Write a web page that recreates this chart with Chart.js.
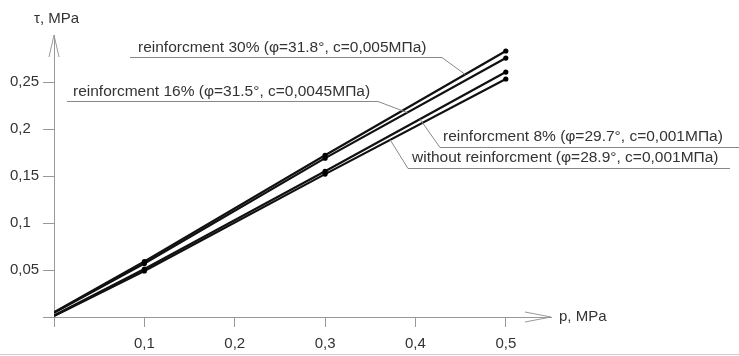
<!DOCTYPE html>
<html>
<head>
<meta charset="utf-8">
<script src="https://cdn.jsdelivr.net/npm/chart.js@4.4.1/dist/chart.umd.min.js"></script>
<style>
  html, body { margin: 0; padding: 0; background: #fff; }
  #wrap { width: 739px; height: 356px; position: relative; }
</style>
</head>
<body>
<div id="wrap"><canvas id="chart"></canvas></div>
<script>
// normal load p, MPa
const pressures = [0, 0.1, 0.3, 0.5];

// shear strength tau, MPa
const tauReinf30 = [0.005, 0.059, 0.172, 0.283];
const tauReinf16 = [0.0045, 0.057, 0.169, 0.2755];
const tauReinf8 = [0.0015, 0.051, 0.155, 0.2606];
const tauNoReinf = [0.001, 0.049, 0.152, 0.2532];

const seriesLabels = [
  "reinforcment 30% (φ=31.8°, c=0,005МПа)",
  "reinforcment 16% (φ=31.5°, c=0,0045МПа)",
  "reinforcment 8% (φ=29.7°, c=0,001МПа)",
  "without reinforcment (φ=28.9°, c=0,001МПа)"
];

const xTicks = [0, 0.1, 0.2, 0.3, 0.4, 0.5];
const yTicks = [0, 0.05, 0.1, 0.15, 0.2, 0.25];

const allSeries = [tauReinf30, tauReinf16, tauReinf8, tauNoReinf];

// where each callout sits (pixels) and at which load its leader meets the line
const callouts = [
  { textX: 138, textY: 48, lineY: 57, from: 130, to: 442, side: "right", atP: 0.455 },
  { textX: 73, textY: 92, lineY: 101, from: 67, to: 378, side: "right", atP: 0.391 },
  { textX: 443, textY: 137, lineY: 147, from: 440, to: 739, side: "left", atP: 0.405 },
  { textX: 412, textY: 158, lineY: 168, from: 408, to: 730, side: "left", atP: 0.372 }
];

const comma = v => (v === 0 ? "" : String(+v.toFixed(2)).replace(".", ","));

// tau on a series at load p, straight-line between measured points
function tauAt(series, p) {
  for (let i = 1; i < pressures.length; i++) {
    if (p <= pressures[i]) {
      const t = (p - pressures[i - 1]) / (pressures[i] - pressures[i - 1]);
      return series[i - 1] + t * (series[i] - series[i - 1]);
    }
  }
  return series[series.length - 1];
}

const decor = {
  id: "decor",
  afterDraw(chart) {
    const ctx = chart.ctx;
    const xs = chart.scales.x, ys = chart.scales.y;
    const area = chart.chartArea;
    const ox = xs.getPixelForValue(0), oy = ys.getPixelForValue(0);
    ctx.save();

    // open arrow heads on the axes
    ctx.strokeStyle = "#999";
    ctx.lineWidth = 1;
    ctx.beginPath();
    ctx.moveTo(ox - 5, area.top + 22);
    ctx.lineTo(ox, area.top);
    ctx.lineTo(ox + 5, area.top + 22);
    ctx.moveTo(area.right - 26, oy - 5);
    ctx.lineTo(area.right, oy);
    ctx.lineTo(area.right - 26, oy + 5);
    ctx.stroke();

    // axis titles
    ctx.fillStyle = "#333";
    ctx.font = '15px "Liberation Sans", Arial, sans-serif';
    ctx.textBaseline = "middle";
    ctx.textAlign = "left";
    ctx.fillText("τ, MPa", 34, 19);
    ctx.fillText("p, MPa", area.right + 8, oy);

    // callouts with underline and leader
    ctx.font = '15.5px "Liberation Sans", Arial, sans-serif';
    callouts.forEach((c, i) => {
      const px = xs.getPixelForValue(c.atP);
      const py = ys.getPixelForValue(tauAt(allSeries[i], c.atP));
      const ax = c.side === "right" ? c.to : c.from;
      ctx.strokeStyle = "#888";
      ctx.beginPath();
      ctx.moveTo(c.from, c.lineY + 0.5);
      ctx.lineTo(c.to, c.lineY + 0.5);
      ctx.moveTo(ax, c.lineY + 0.5);
      ctx.lineTo(px, py);
      ctx.stroke();
      ctx.fillStyle = "#333";
      ctx.fillText(seriesLabels[i], c.textX, c.textY);
    });

    // page edge line at the bottom
    ctx.strokeStyle = "#d0d0d0";
    ctx.beginPath();
    ctx.moveTo(0, 354.5);
    ctx.lineTo(739, 354.5);
    ctx.stroke();
    ctx.restore();
  }
};

const tickFont = { family: '"Liberation Sans", Arial, sans-serif', size: 15 };

new Chart(document.getElementById("chart"), {
  type: "line",
  data: {
    datasets: allSeries.map((s, i) => ({
      label: seriesLabels[i],
      data: pressures.map((p, j) => ({ x: p, y: s[j] })),
      borderColor: "#111",
      borderWidth: 2.2,
      pointRadius: c => (c.raw && c.raw.x === 0 ? 0 : 2.6),
      pointBackgroundColor: "#000",
      pointBorderWidth: 0,
      tension: 0
    }))
  },
  options: {
    responsive: true,
    maintainAspectRatio: false,
    animation: false,
    layout: { padding: { left: 10, top: 35, right: 188, bottom: 0 } },
    plugins: { legend: { display: false }, tooltip: { enabled: false } },
    scales: {
      x: {
        type: "linear",
        min: 0,
        max: 0.55,
        afterBuildTicks: s => { s.ticks = xTicks.map(v => ({ value: v })); },
        afterFit: s => { s.height = 39; },
        ticks: { callback: v => comma(v), color: "#333", font: tickFont, padding: 8, maxRotation: 0 },
        grid: { drawOnChartArea: false, tickLength: 10, color: "#999" },
        border: { color: "#999" }
      },
      y: {
        min: 0,
        max: 0.3,
        afterBuildTicks: s => { s.ticks = yTicks.map(v => ({ value: v })); },
        afterFit: s => { s.width = 44; },
        ticks: { callback: v => comma(v), color: "#333", font: tickFont, crossAlign: "far", padding: 0 },
        grid: { drawOnChartArea: false, tickLength: 11, color: "#999" },
        border: { color: "#999" }
      }
    }
  },
  plugins: [decor]
});
</script>
</body>
</html>
